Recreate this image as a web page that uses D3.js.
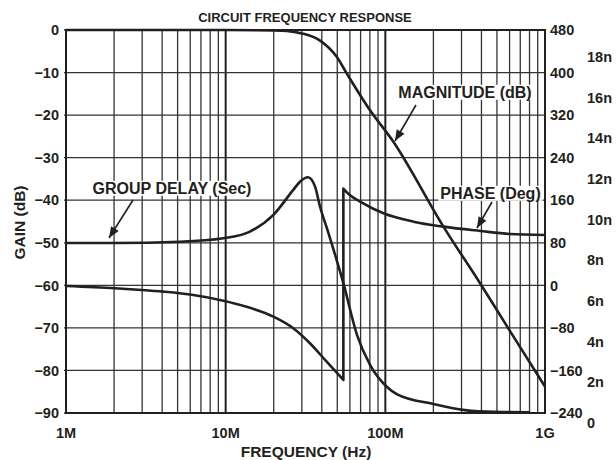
<!DOCTYPE html>
<html><head><meta charset="utf-8">
<script src="https://cdn.jsdelivr.net/npm/d3@7"></script>
<style>
html,body{margin:0;padding:0;background:#fff;}
text{font-family:"Liberation Sans",Arial,Helvetica,sans-serif;font-weight:bold;fill:#231f20;}
</style></head>
<body><svg id="c" width="616" height="460"></svg>
<script>
// ---- data ----
const title = "CIRCUIT FREQUENCY RESPONSE";
const xTickValues = [1e6, 1e7, 1e8, 1e9];
const xTickLabels = ["1M", "10M", "100M", "1G"];
const gainTicks = [0, -10, -20, -30, -40, -50, -60, -70, -80, -90];
const phaseTicks = [480, 400, 320, 240, 160, 80, 0, -80, -160, -240];
const delayTicks = [18, 16, 14, 12, 10, 8, 6, 4, 2, 0];
const delayTickLabels = ["18n","16n","14n","12n","10n","8n","6n","4n","2n","0"];

// magnitude (dB) vs frequency (Hz)
const magFreq = [1e6, 5e6, 1e7, 2e7, 24.1e6, 30e6, 39e6, 49.6e6, 57.3e6, 80e6, 112e6, 231e6, 392e6, 589e6, 1e9];
const magDb   = [0,   0,   0,  -0.1, -0.2,  -0.8, -2.5,  -6.3,  -10.2, -18.8, -26.2, -46.2, -59.5, -70.1, -83.8];

// phase (deg) vs frequency, two branches (wrap at -180/+180)
const phaseFreqA = [1e6, 2.03e6, 2.98e6, 4.07e6, 6.27e6, 9.67e6, 13.5e6, 19.9e6, 26.5e6, 33.7e6, 42.9e6, 54.6e6];
const phaseDegA  = [-1.2, -5.5, -8.7, -11.9, -18.1, -28.8, -40.1, -58.9, -80.7, -108.9, -143.5, -177.9];
const phaseFreqB = [54.6e6, 56e6, 72.8e6, 97.3e6, 150e6, 231e6, 392e6, 600e6, 1e9];
const phaseDegB  = [182, 178, 154.2, 135.4, 119.7, 110.3, 102.2, 96.6, 94.7];

// group delay (ns) vs frequency
const delayFreq = [1e6, 2e6, 5.18e6, 9.67e6, 14.2e6, 19.9e6, 26.5e6, 29.2e6, 32.8e6, 36.3e6, 39e6, 43.4e6, 54.6e6, 66.5e6, 80.2e6, 102e6, 118e6, 200e6, 315e6, 486e6, 806e6];
const delayNs   = [8.84, 8.84, 8.9, 9.07, 9.4, 10.22, 11.45, 11.85, 12.07, 11.61, 10.62, 9.48, 6.86, 4.31, 2.84, 1.77, 1.41, 0.92, 0.62, 0.53, 0.51];

// ---- chart ----
const svg = d3.select("#c");
const L = 66, R = 545, T = 30, B = 413;
const x = d3.scaleLog().domain([1e6, 1e9]).range([L, R]);
const yG = d3.scaleLinear().domain([-90, 0]).range([B, T]);
const yP = d3.scaleLinear().domain([-240, 480]).range([B, T]);
const yD = d3.scaleLinear().domain([0, 18]).range([422.7, 56.7]);

// grid
const minor = [];
for (let d = 1e6; d < 1e9; d *= 10) for (let k = 2; k <= 9; k++) minor.push(d * k);
svg.append("g").selectAll("line").data(minor).join("line")
  .attr("x1", d => x(d)).attr("x2", d => x(d)).attr("y1", T).attr("y2", B)
  .attr("stroke", "#333").attr("stroke-width", 1.3);
svg.append("g").selectAll("line").data(xTickValues.slice(1, 3)).join("line")
  .attr("x1", d => x(d)).attr("x2", d => x(d)).attr("y1", T).attr("y2", B)
  .attr("stroke", "#231f20").attr("stroke-width", 2);
svg.append("g").selectAll("line").data(gainTicks).join("line")
  .attr("x1", L - 2).attr("x2", R).attr("y1", d => yG(d)).attr("y2", d => yG(d))
  .attr("stroke", "#333").attr("stroke-width", 1.3);
svg.append("rect").attr("x", L).attr("y", T).attr("width", R - L).attr("height", B - T)
  .attr("fill", "none").attr("stroke", "#231f20").attr("stroke-width", 2);

// tick labels
const fs = 14.5;
svg.append("g").selectAll("text").data(gainTicks).join("text")
  .attr("x", 59).attr("y", d => yG(d)).attr("dy", "0.36em").attr("text-anchor", "end")
  .attr("font-size", fs).text(d => d === 0 ? "0" : "\u2212" + Math.abs(d));
svg.append("g").selectAll("text").data(phaseTicks).join("text")
  .attr("x", 550).attr("y", d => yP(d)).attr("dy", "0.36em").attr("text-anchor", "start")
  .attr("font-size", fs).text(d => d < 0 ? "\u2212" + Math.abs(d) : String(d));
svg.append("g").selectAll("text").data(delayTicks).join("text")
  .attr("x", 587).attr("y", d => yD(d)).attr("dy", "0.36em").attr("text-anchor", "start")
  .attr("font-size", fs).text((d, i) => delayTickLabels[i]);
svg.append("g").selectAll("text").data(xTickValues).join("text")
  .attr("x", d => x(d)).attr("y", 432.5).attr("dy", "0.36em").attr("text-anchor", "middle")
  .attr("font-size", fs).text((d, i) => xTickLabels[i]);

// axis titles
svg.append("text").attr("x", 305).attr("y", 17.5).attr("dy", "0.36em").attr("text-anchor", "middle")
  .attr("font-size", 13).text(title);
svg.append("text").attr("x", 306).attr("y", 451.5).attr("dy", "0.36em").attr("text-anchor", "middle")
  .attr("font-size", 15.5).text("FREQUENCY (Hz)");
svg.append("text").attr("transform", "translate(19,222.5) rotate(-90)").attr("dy", "0.36em")
  .attr("text-anchor", "middle").attr("font-size", 15.5).text("GAIN (dB)");

// curves
const lineG = d3.line().x(d => x(d[0])).y(d => yG(d[1])).curve(d3.curveMonotoneX);
const lineP = d3.line().x(d => x(d[0])).y(d => yP(d[1])).curve(d3.curveMonotoneX);
const lineD = d3.line().x(d => x(d[0])).y(d => yD(d[1])).curve(d3.curveMonotoneX);
const curve = (p) => svg.append("path").attr("d", p).attr("fill", "none")
  .attr("stroke", "#231f20").attr("stroke-width", 2.6).attr("stroke-linejoin", "round");
curve(lineG(d3.zip(magFreq, magDb)));
curve(lineD(d3.zip(delayFreq, delayNs)));
const pa = d3.zip(phaseFreqA, phaseDegA), pb = d3.zip(phaseFreqB, phaseDegB);
curve(lineP(pa) + "L" + lineP(pb).slice(1));

// annotations
function label(txt, cx, cy, ax1, ay1, ax2, ay2) {
  const g = svg.append("g");
  const t = g.append("text").attr("x", cx).attr("y", cy).attr("dy", "0.36em")
    .attr("text-anchor", "middle").attr("font-size", 16).text(txt);
  const bb = t.node().getBBox();
  g.insert("rect", "text").attr("x", bb.x - 2).attr("y", bb.y + 1).attr("width", bb.width + 4)
    .attr("height", bb.height - 2).attr("fill", "#fff");
  g.append("line").attr("x1", ax1).attr("y1", ay1).attr("x2", ax2).attr("y2", ay2)
    .attr("stroke", "#231f20").attr("stroke-width", 1.6);
  const ang = Math.atan2(ay2 - ay1, ax2 - ax1);
  const len = 11, w = 4.5;
  const bx = ax2 - len * Math.cos(ang), by = ay2 - len * Math.sin(ang);
  const px = -Math.sin(ang) * w, py = Math.cos(ang) * w;
  g.append("path").attr("d", `M${ax2},${ay2}L${bx + px},${by + py}L${bx - px},${by - py}Z`)
    .attr("fill", "#231f20");
}
label("GROUP DELAY (Sec)", 172, 188, 133, 200, 109, 238);
label("MAGNITUDE (dB)", 465, 92, 416, 105, 395, 141);
label("PHASE (Deg)", 490.5, 193, 492, 202, 477, 228);
</script></body></html>
